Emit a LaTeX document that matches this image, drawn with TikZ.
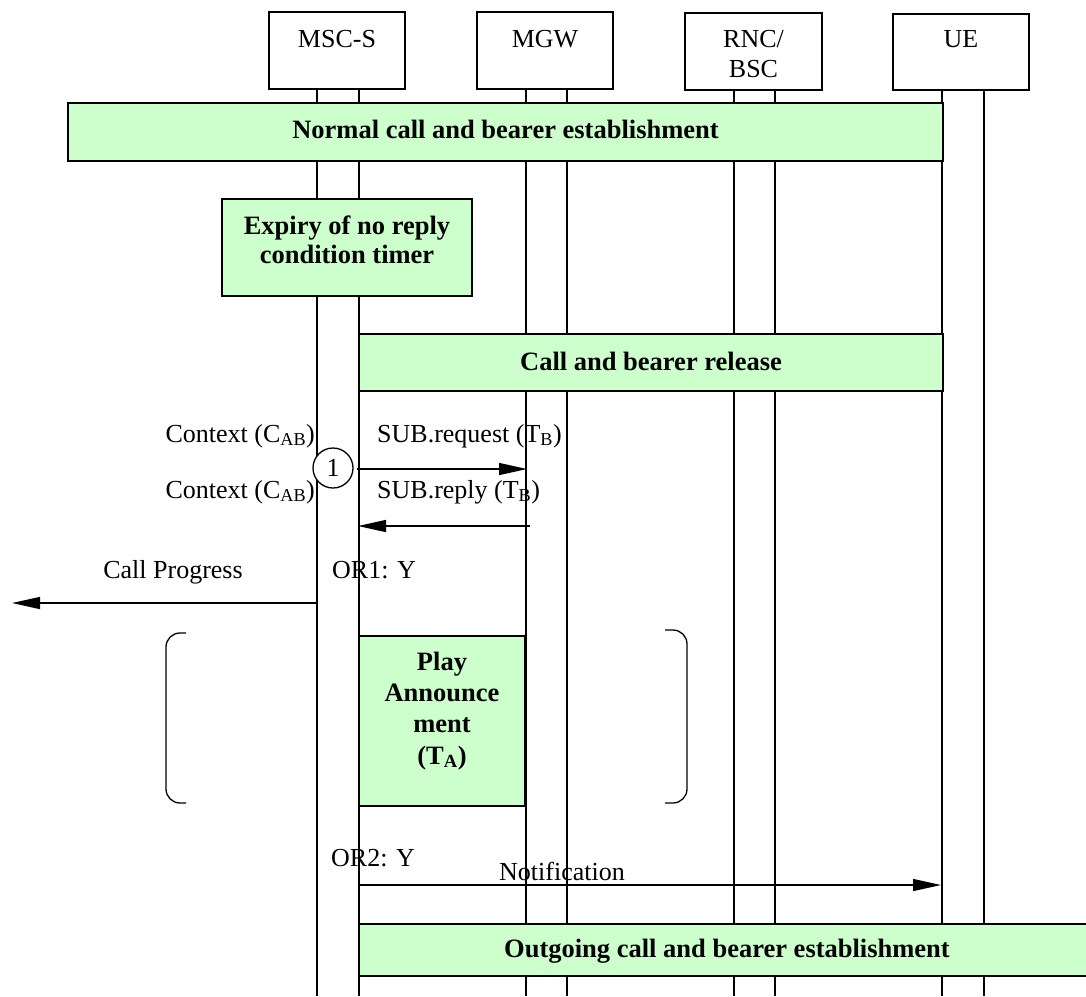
\documentclass[tikz,border=0pt]{standalone}
\usepackage{fontspec}
\setmainfont{Liberation Serif}
\usetikzlibrary{arrows.meta}
\definecolor{phasegreen}{HTML}{CCFFCC}

\begin{document}
\begin{tikzpicture}[x=1pt,y=-1pt,
    every node/.style={font=\fontsize{26}{30}\selectfont, inner sep=0pt},
    head/.style={draw, line width=1.3pt, fill=white},
    phase/.style={draw, line width=1.3pt, fill=phasegreen},
    bold/.style={font=\fontsize{26.5}{30}\selectfont\bfseries},
    msg/.style={line width=1.4pt, -{Triangle[length=28pt,width=12pt]}},
    brace/.style={line width=1.3pt, rounded corners=14pt}]
  \useasboundingbox (0,0) rectangle (1086,996);
  % life lines
  \foreach \x in {317,359,526,567,734,775,942,984} {
    \coordinate (top\x) at (\x,89);
    \coordinate (bot\x) at (\x,996);
    \draw[line width=1.4pt] (top\x) -- (bot\x);
  }
  % entities
  \draw[head] (269,12) rectangle (405,89);
  \draw[head] (477,12) rectangle (613,89);
  \draw[head] (685,13) rectangle (822,90);
  \draw[head] (893,14) rectangle (1029,90);
  \node[anchor=base] (msc) at (337,47) {MSC-S};
  \node[anchor=base] (mgw) at (545,47) {MGW};
  \node[anchor=base] (rnc) at (753.5,47) {RNC/};
  \node[anchor=base] (bsc) at (753.5,77) {BSC};
  \node[anchor=base] (ue) at (961,47) {UE};
  % phases
  \draw[phase] (68,103) rectangle (943,161);
  \node[bold, anchor=base] (normal) at (505.5,138) {Normal call and bearer establishment};
  \draw[phase] (222,199) rectangle (472,296);
  \node[bold, anchor=base] (expiry) at (347,234) {Expiry of no reply};
  \node[bold, anchor=base] (timer) at (347,263) {condition timer};
  \draw[phase] (359,334) rectangle (943,391);
  \node[bold, anchor=base] (release) at (651,370) {Call and bearer release};
  % subtract termination
  \node[anchor=base east] (ctx1) at (315,442) {Context (C\textsubscript{AB})};
  \node[anchor=base west] (subreq) at (377,442) {SUB.request (T\textsubscript{B})};
  \node[circle, draw, fill=white, line width=1.3pt, minimum size=40pt] (one) at (333,468) {1};
  \coordinate (reqA) at (357,469);
  \coordinate (reqB) at (527,469);
  \draw[msg] (reqA) -- (reqB);
  \node[anchor=base east] (ctx2) at (315,498) {Context (C\textsubscript{AB})};
  \node[anchor=base west] (subrep) at (377,498) {SUB.reply (T\textsubscript{B})};
  \coordinate (repA) at (530,526);
  \coordinate (repB) at (358,526);
  \draw[msg] (repA) -- (repB);
  % call progress
  \node[anchor=base] (progress) at (173,578) {Call Progress};
  \node[anchor=base west] (or1) at (332,578) {OR1: Y};
  \coordinate (cpA) at (318,603);
  \coordinate (cpB) at (12,603);
  \draw[msg] (cpA) -- (cpB);
  % announcement
  \draw[brace] (186,633) -- (166,633) -- (166,803) -- (186,803);
  \draw[brace] (665,630) -- (687,630) -- (687,803) -- (665,803);
  \draw[phase] (359,636) rectangle (525,806);
  \node[bold, anchor=base] (play) at (442,670) {Play};
  \node[bold, anchor=base] (annc) at (442,701) {Announce};
  \node[bold, anchor=base] (ment) at (442,732) {ment};
  \node[bold, anchor=base] (ta) at (442,764) {(T\textsubscript{A})};
  % notification
  \node[anchor=base west] (or2) at (331,866) {OR2: Y};
  \node[anchor=base] (notif) at (562,880) {Notification};
  \coordinate (ntA) at (358,885);
  \coordinate (ntB) at (941,885);
  \draw[msg] (ntA) -- (ntB);
  \draw[phase] (359,924) rectangle (1095,976);
  \node[bold, anchor=base] (outgoing) at (727,957) {Outgoing call and bearer establishment};
\end{tikzpicture}
\end{document}
